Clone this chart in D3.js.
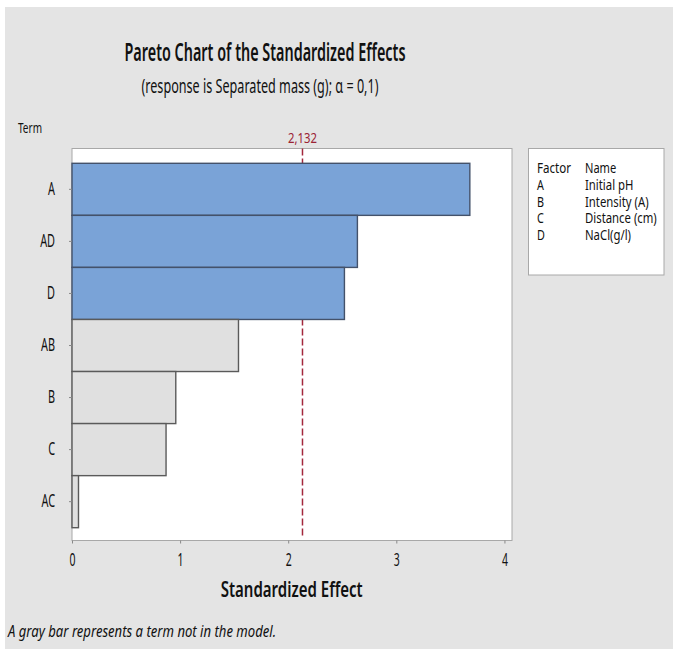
<!DOCTYPE html>
<html>
<head>
<meta charset="utf-8">
<script src="https://cdn.jsdelivr.net/npm/d3@7"></script>
<style>
  body { margin: 0; background: #fff; }
  text { font-family: "Noto Sans", "Open Sans", sans-serif; fill: #111; }
</style>
</head>
<body>
<div id="chart"></div>
<script>
// Pareto chart of standardized effects

const terms = ["A", "AD", "D", "AB", "B", "C", "AC"];
const effects = [3.68, 2.64, 2.52, 1.54, 0.96, 0.87, 0.06];
const inModel = [true, true, true, false, false, false, false];
const critical = 2.132;
const criticalLabel = "2,132";
const xTicks = [0, 1, 2, 3, 4];
const factorCodes = ["A", "B", "C", "D"];
const factorNames = ["Initial pH", "Intensity (A)", "Distance (cm)", "NaCl(g/l)"];

const width = 675;
const height = 651;
const plot = {left: 72, right: 512, top: 148.5, bottom: 540.5};

const svg = d3.select("#chart")
    .append("svg")
    .attr("width", width)
    .attr("height", height);

// squeeze text horizontally (reference font is narrow)
function squeeze(sel, k) {
    sel.each(function() {
        const w = this.getComputedTextLength();
        d3.select(this)
            .attr("textLength", w * k)
            .attr("lengthAdjust", "spacingAndGlyphs");
    });
}

svg.append("rect")
    .attr("x", 5).attr("y", 7)
    .attr("width", 668).attr("height", 642)
    .attr("fill", "#e4e4e4");

svg.append("rect")
    .attr("x", plot.left).attr("y", plot.top)
    .attr("width", plot.right - plot.left)
    .attr("height", plot.bottom - plot.top)
    .attr("fill", "#fff")
    .attr("stroke", "#a8a8a8");

const xScale = d3.scaleLinear()
    .domain([0, 4.07])
    .range([plot.left, plot.right]);

const yScale = d3.scaleBand()
    .domain(terms)
    .range([163.3, 527.7])
    .padding(0);

const data = terms.map((t, i) => ({term: t, effect: effects[i], model: inModel[i]}));

// reference line (drawn behind bars)
svg.append("line")
    .attr("x1", xScale(critical)).attr("x2", xScale(critical))
    .attr("y1", plot.top).attr("y2", plot.bottom - 5)
    .attr("stroke", "#a3283c")
    .attr("stroke-width", 1.5)
    .attr("stroke-dasharray", "7,3");

svg.append("text")
    .attr("x", xScale(critical))
    .attr("y", 143)
    .attr("text-anchor", "middle")
    .style("font-size", "14.5px")
    .style("fill", "#9b2335")
    .text(criticalLabel)
    .attr("textLength", 29)
    .attr("lengthAdjust", "spacingAndGlyphs");

svg.selectAll("rect.bar")
    .data(data)
    .join("rect")
    .attr("class", "bar")
    .attr("x", xScale(0))
    .attr("y", d => yScale(d.term))
    .attr("width", d => xScale(d.effect) - xScale(0))
    .attr("height", yScale.bandwidth())
    .attr("fill", d => d.model ? "#7aa3d7" : "#e0e0e0")
    .attr("stroke", d => d.model ? "#44526a" : "#5a5a5a")
    .attr("stroke-width", 1.4);

const xAxis = d3.axisBottom(xScale)
    .tickValues(xTicks)
    .tickFormat(d3.format("d"))
    .tickSize(3)
    .tickPadding(10);

const gx = svg.append("g")
    .attr("transform", `translate(0, ${plot.bottom})`)
    .call(xAxis);
gx.select(".domain").remove();
gx.selectAll(".tick line").attr("stroke", "#888");
gx.selectAll(".tick text")
    .style("font-size", "17.5px")
    .attr("fill", "#111")
    .call(squeeze, 0.6);

const yAxis = d3.axisLeft(yScale)
    .tickSize(3)
    .tickPadding(14);

const gy = svg.append("g")
    .attr("transform", `translate(${plot.left}, 0)`)
    .call(yAxis);
gy.select(".domain").remove();
gy.selectAll(".tick line").attr("stroke", "#888");
gy.selectAll(".tick text")
    .style("font-size", "17.5px")
    .attr("fill", "#111")
    .call(squeeze, 0.62);

// titles
svg.append("text")
    .attr("x", 265).attr("y", 61)
    .attr("text-anchor", "middle")
    .style("font-size", "24.5px")
    .style("font-weight", "600")
    .text("Pareto Chart of the Standardized Effects")
    .attr("textLength", 281)
    .attr("lengthAdjust", "spacingAndGlyphs");

svg.append("text")
    .attr("x", 260).attr("y", 93)
    .attr("text-anchor", "middle")
    .style("font-size", "19px")
    .text("(response is Separated mass (g); α = 0,1)")
    .attr("textLength", 237)
    .attr("lengthAdjust", "spacingAndGlyphs");

svg.append("text")
    .attr("x", 18).attr("y", 133)
    .style("font-size", "15px")
    .text("Term")
    .attr("textLength", 24)
    .attr("lengthAdjust", "spacingAndGlyphs");

svg.append("text")
    .attr("x", 291.7).attr("y", 597)
    .attr("text-anchor", "middle")
    .style("font-size", "22px")
    .style("font-weight", "600")
    .text("Standardized Effect")
    .attr("textLength", 142)
    .attr("lengthAdjust", "spacingAndGlyphs");

svg.append("text")
    .attr("x", 8).attr("y", 637)
    .style("font-size", "16px")
    .style("font-style", "italic")
    .text("A gray bar represents a term not in the model.")
    .attr("textLength", 268)
    .attr("lengthAdjust", "spacingAndGlyphs");

// legend
const legend = svg.append("g");
legend.append("rect")
    .attr("x", 528.5).attr("y", 148.5)
    .attr("width", 135.5).attr("height", 126.5)
    .attr("fill", "#fff")
    .attr("stroke", "#a8a8a8");

const rowY = d3.scaleLinear().domain([0, 4]).range([173.3, 240]);

legend.append("text")
    .attr("x", 537).attr("y", rowY(0))
    .style("font-size", "13.5px")
    .text("Factor")
    .attr("textLength", 34)
    .attr("lengthAdjust", "spacingAndGlyphs");
legend.append("text")
    .attr("x", 585).attr("y", rowY(0))
    .style("font-size", "13.5px")
    .text("Name")
    .call(squeeze, 0.82);

legend.selectAll("text.code")
    .data(factorCodes)
    .join("text")
    .attr("class", "code")
    .attr("x", 537)
    .attr("y", (d, i) => rowY(i + 1))
    .style("font-size", "13.5px")
    .text(d => d)
    .call(squeeze, 0.8);

legend.selectAll("text.name")
    .data(factorNames)
    .join("text")
    .attr("class", "name")
    .attr("x", 585)
    .attr("y", (d, i) => rowY(i + 1))
    .style("font-size", "13.5px")
    .text(d => d)
    .call(squeeze, 0.84);
</script>
</body>
</html>
